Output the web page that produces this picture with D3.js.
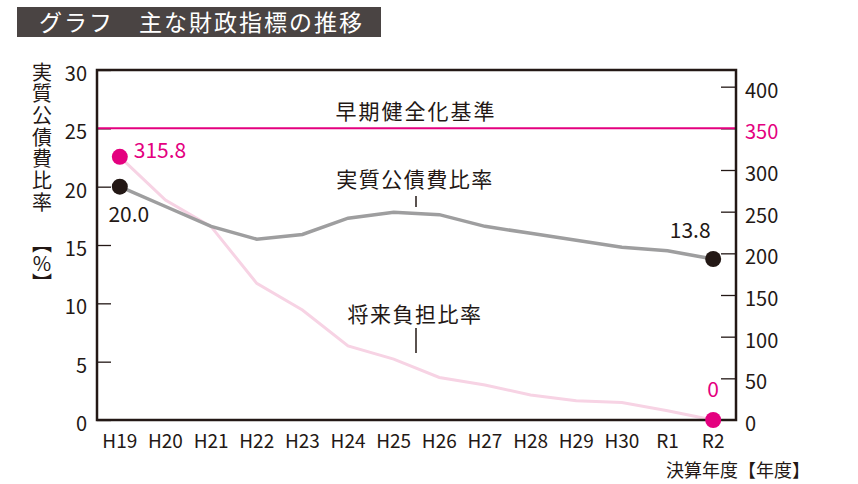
<!DOCTYPE html>
<html>
<head>
<meta charset="utf-8">
<script src="https://cdn.jsdelivr.net/npm/d3@7"></script>
<style>
  body { margin: 0; background: #fff; }
  text { font-family: "Noto Sans CJK JP", "Noto Sans", sans-serif; }
</style>
</head>
<body>
<div id="chart"></div>
<script>
// 年度と各指標
var years = ["H19","H20","H21","H22","H23","H24","H25","H26","H27","H28","H29","H30","R1","R2"];
var kousaihi = [20.0, 18.3, 16.6, 15.5, 15.9, 17.3, 17.8, 17.6, 16.6, 16.0, 15.4, 14.8, 14.5, 13.8];
var shourai = [315.8, 264, 232, 164, 132, 89, 73, 51, 42, 30, 23, 21, 11, 0];
var leftTicks = [0, 5, 10, 15, 20, 25, 30];
var rightTicks = [0, 50, 100, 150, 200, 250, 300, 350, 400];
var kijun = 25; // 早期健全化基準 (左軸) = 350 (右軸)

var ink = "#231815", magenta = "#e4007f";

var svg = d3.select("#chart").append("svg")
  .attr("width", 858)
  .attr("height", 484);

// タイトル
svg.append("rect")
  .attr("x", 17).attr("y", 7)
  .attr("width", 364).attr("height", 30)
  .style("fill", "#4a4443");
svg.append("text")
  .attr("x", 39).attr("y", 31)
  .style("fill", "#fff")
  .style("font-size", "23px")
  .style("letter-spacing", "2px")
  .text("グラフ　主な財政指標の推移");

var x = d3.scalePoint().domain(years).range([97, 736]).padding(0.5);
var yL = d3.scaleLinear().domain([0, 30]).range([420, 70]);
var yR = d3.scaleLinear().domain([0, 420]).range([420, 70]);

// 左軸
var leftAxis = svg.append("g")
  .attr("transform", "translate(97,0)")
  .call(d3.axisRight(yL).tickValues(leftTicks).tickSize(14).tickFormat(""));
leftAxis.select(".domain").remove();
leftAxis.selectAll("line").style("stroke", ink).style("stroke-width", 1.3);

svg.selectAll(".lt").data(leftTicks).enter().append("text")
  .attr("x", 87).attr("y", d => yL(d) + 11)
  .attr("text-anchor", "end")
  .style("font-size", "20px").style("fill", ink)
  .text(d => d);

// 右軸
var rightAxis = svg.append("g")
  .attr("transform", "translate(736,0)")
  .call(d3.axisLeft(yR).tickValues(rightTicks.filter(d => d > 0)).tickSize(15).tickFormat(""));
rightAxis.select(".domain").remove();
rightAxis.selectAll("line").style("stroke", ink).style("stroke-width", 1.3);

svg.selectAll(".rt").data(rightTicks).enter().append("text")
  .attr("x", 745).attr("y", d => yR(d) + 11)
  .style("font-size", "20px")
  .style("fill", d => d === 350 ? magenta : ink)
  .text(d => d);

// x軸ラベル
svg.selectAll(".xt").data(years).enter().append("text")
  .attr("x", d => x(d)).attr("y", 448)
  .attr("text-anchor", "middle")
  .style("font-size", "19px").style("fill", ink)
  .text(d => d);

svg.append("text")
  .attr("x", 666).attr("y", 477)
  .style("font-size", "18px").style("fill", ink)
  .text("決算年度【年度】");

// 縦軸タイトル
svg.append("text")
  .attr("x", 42).attr("y", 62)
  .style("writing-mode", "vertical-rl")
  .style("text-orientation", "upright")
  .style("letter-spacing", "1.7px")
  .style("font-size", "20px").style("fill", ink)
  .text("実質公債費比率");
svg.append("text")
  .attr("x", 42).attr("y", 233)
  .style("writing-mode", "vertical-rl")
  .style("text-orientation", "upright")
  .style("font-size", "20px").style("fill", ink)
  .text("【%】");

// 早期健全化基準
svg.append("line")
  .attr("x1", 97).attr("x2", 736)
  .attr("y1", yL(kijun)).attr("y2", yL(kijun))
  .style("stroke", magenta).style("stroke-width", 2);
svg.append("text")
  .attr("x", 416).attr("y", 119)
  .attr("text-anchor", "middle")
  .style("font-size", "21px").style("letter-spacing", "2px").style("fill", ink)
  .text("早期健全化基準");

// 線
var lineL = d3.line().x((d, i) => x(years[i])).y(d => yL(d));
var lineR = d3.line().x((d, i) => x(years[i])).y(d => yR(d));

svg.append("path").datum(shourai)
  .attr("d", lineR)
  .style("fill", "none").style("stroke", "#f7d3e4").style("stroke-width", 3);
svg.append("path").datum(kousaihi)
  .attr("d", lineL)
  .style("fill", "none").style("stroke", "#9e9e9f").style("stroke-width", 3.5);

// 枠
svg.append("rect")
  .attr("x", 97).attr("y", 70)
  .attr("width", 639).attr("height", 350)
  .style("fill", "none").style("stroke", ink).style("stroke-width", 2.5);

// 端点
var last = years.length - 1;
svg.selectAll(".dk").data([0, last]).enter().append("circle")
  .attr("cx", i => x(years[i])).attr("cy", i => yL(kousaihi[i]))
  .attr("r", 8).style("fill", ink);
svg.selectAll(".dm").data([0, last]).enter().append("circle")
  .attr("cx", i => x(years[i])).attr("cy", i => yR(shourai[i]))
  .attr("r", 8).style("fill", magenta);

// 値ラベル
svg.append("text")
  .attr("x", x(years[0]) + 14).attr("y", yR(shourai[0]) + 1)
  .style("font-size", "21px").style("fill", magenta)
  .text(shourai[0].toFixed(1));
svg.append("text")
  .attr("x", x(years[0]) + 9).attr("y", yL(kousaihi[0]) + 35)
  .attr("text-anchor", "middle")
  .style("font-size", "21px").style("fill", ink)
  .text(kousaihi[0].toFixed(1));
svg.append("text")
  .attr("x", x(years[last]) - 23).attr("y", yL(kousaihi[last]) - 21)
  .attr("text-anchor", "middle")
  .style("font-size", "21px").style("fill", ink)
  .text(kousaihi[last].toFixed(1));
svg.append("text")
  .attr("x", x(years[last])).attr("y", yR(shourai[last]) - 23)
  .attr("text-anchor", "middle")
  .style("font-size", "21px").style("fill", magenta)
  .text(shourai[last]);

// 系列名
svg.append("text")
  .attr("x", 415).attr("y", 187)
  .attr("text-anchor", "middle")
  .style("font-size", "21px").style("letter-spacing", "1.5px").style("fill", ink)
  .text("実質公債費比率");
svg.append("line")
  .attr("x1", 416).attr("x2", 416).attr("y1", 196).attr("y2", 207)
  .style("stroke", ink).style("stroke-width", 1.5);
svg.append("text")
  .attr("x", 415).attr("y", 322)
  .attr("text-anchor", "middle")
  .style("font-size", "21px").style("letter-spacing", "1.5px").style("fill", ink)
  .text("将来負担比率");
svg.append("line")
  .attr("x1", 416).attr("x2", 416).attr("y1", 328).attr("y2", 353)
  .style("stroke", ink).style("stroke-width", 1.5);
</script>
</body>
</html>
